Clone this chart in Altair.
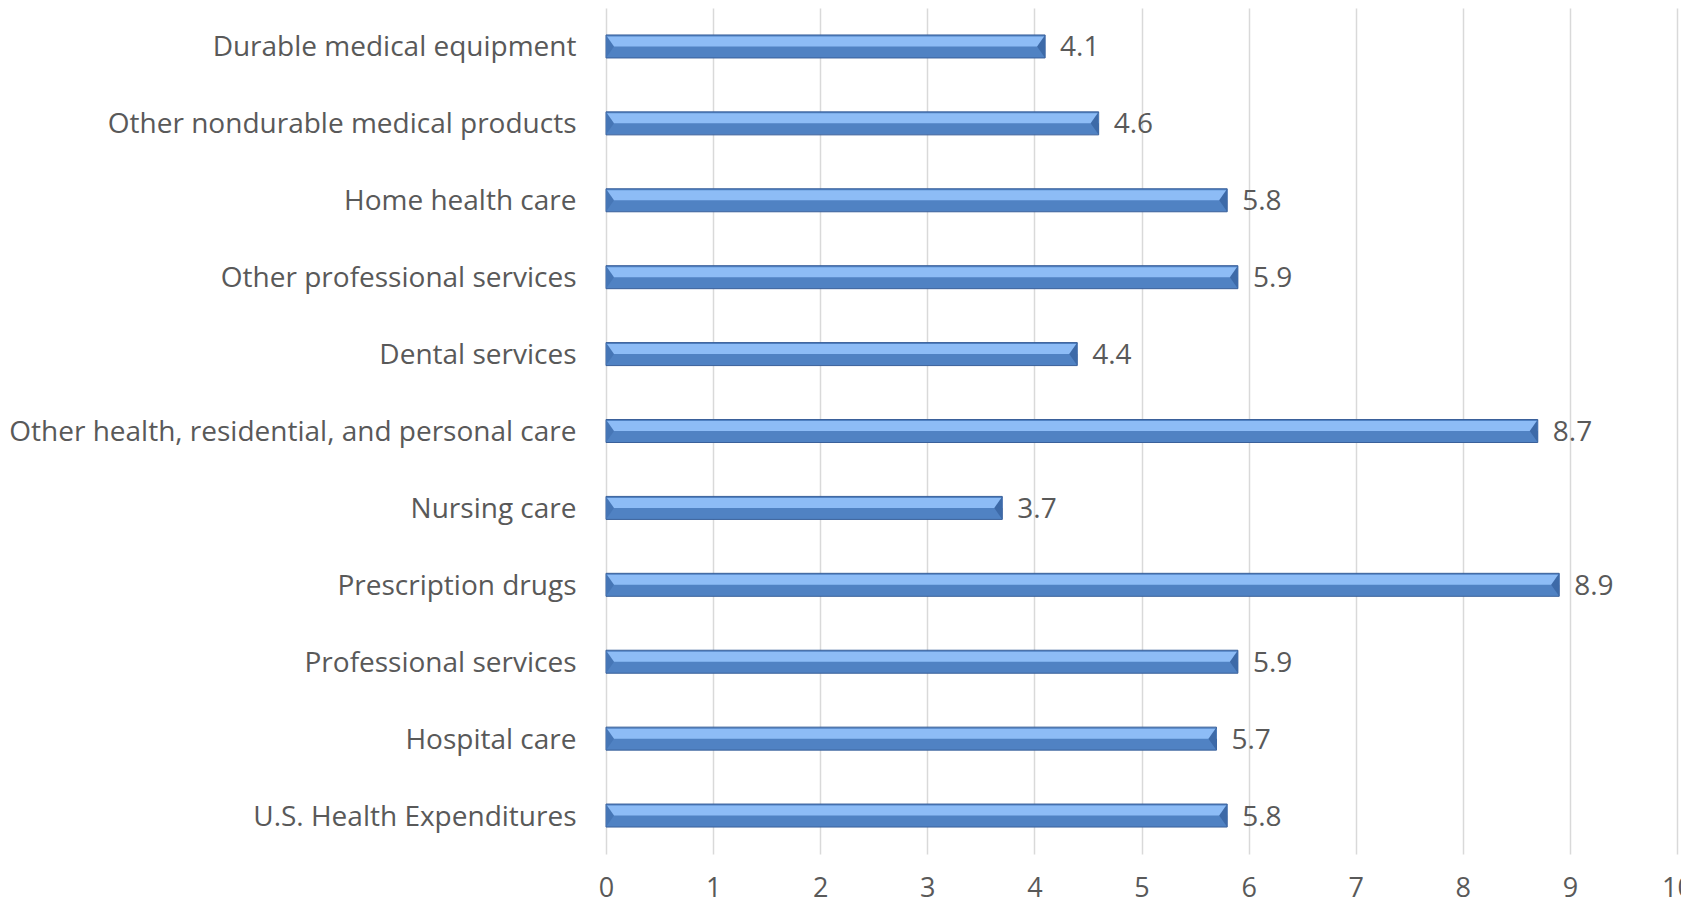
import altair as alt
import pandas as pd

categories = [
    "Durable medical equipment",
    "Other nondurable medical products",
    "Home health care",
    "Other professional services",
    "Dental services",
    "Other health, residential, and personal care",
    "Nursing care",
    "Prescription drugs",
    "Professional services",
    "Hospital care",
    "U.S. Health Expenditures",
]
values = [4.1, 4.6, 5.8, 5.9, 4.4, 8.7, 3.7, 8.9, 5.9, 5.7, 5.8]
x_ticks = [0, 1, 2, 3, 4, 5, 6, 7, 8, 9, 10]

df = pd.DataFrame({"category": categories, "value": values, "zero": [0] * len(values)})

FONT = "Open Sans"
GRAY = "#595959"

x_enc = alt.X("value:Q", scale=alt.Scale(domain=[0, 10], nice=False),
              axis=alt.Axis(values=x_ticks, format="d", title=None, grid=True, gridColor="#d9d9d9",
                            gridWidth=1.5, domain=False, ticks=False, labelFont=FONT,
                            labelFontSize=27, labelColor=GRAY, labelPadding=21,
                            labelFlush=False))
y_enc = alt.Y("category:N", sort=categories,
              axis=alt.Axis(title=None, domain=False, ticks=False, grid=False,
                            labelFont=FONT, labelFontSize=28, labelColor=GRAY,
                            labelPadding=30, labelLimit=700, labelOffset=2))
y_plain = alt.Y("category:N", sort=categories)

base = alt.Chart(df)

dark = base.mark_bar(size=23, color="#5082c3", stroke="#3a609a", strokeWidth=1).encode(x=x_enc, y=y_enc)
light = base.mark_bar(size=10, yOffset=-5, color="#8dbcf6").encode(x=alt.X("value:Q"), y=y_plain)

left_bevel = base.mark_point(shape="M-0.35,-1L0.35,0L-0.35,1Z", size=530, filled=True, opacity=1,
                             color="#4676b6", strokeWidth=0, xOffset=4).encode(
    x=alt.X("zero:Q"), y=y_plain)
right_bevel = base.mark_point(shape="M0.35,-1L-0.35,0L0.35,1Z", size=530, filled=True, opacity=1,
                              color="#3d6aa8", strokeWidth=0, xOffset=-4).encode(
    x=alt.X("value:Q"), y=y_plain)

labels = base.mark_text(align="left", baseline="middle", dx=15, dy=2, font=FONT,
                        fontSize=28, color=GRAY).encode(
    x=alt.X("value:Q"), y=y_plain, text=alt.Text("value:Q", format=".1f"))

chart = alt.layer(dark, light, left_bevel, right_bevel, labels).properties(
    width=1071, height=846,
    background="white",
    padding={"left": 606, "top": 8, "right": 4, "bottom": 54},
    autosize=alt.AutoSizeParams(type="none"),
).configure_view(stroke=None)

chart.save("out.html", embed_options={"renderer": "svg", "actions": False})
